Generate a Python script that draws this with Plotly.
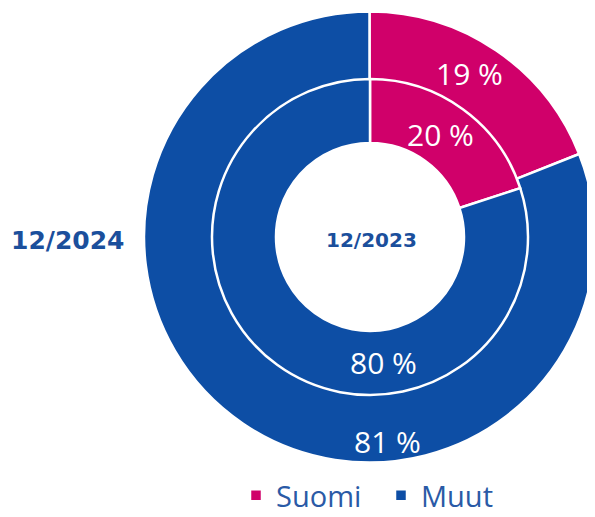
import plotly.graph_objects as go

categories = ["Suomi", "Muut"]
values_2024 = [19, 81]
values_2023 = [20, 80]
colors = ["#D0006A", "#0D4EA5"]
ring_labels = ["12/2024", "12/2023"]

# the page body has an 8px margin, so the figure is drawn 8px in from the window edge
OFF = 8
W, H = 595 - OFF, 517 - OFF

def px(x):  # window x -> paper fraction
    return (x - OFF) / W

def py(y):  # window y (from top) -> paper fraction
    return (H - (y - OFF)) / H

cx, cy = 370, 237  # ring centre in window pixels
r_out, r_mid, r_in = 226, 158, 94

def dom(r):
    return dict(x=[max(0, px(cx - r)), min(1, px(cx + r))],
                y=[max(0, py(cy + r)), min(1, py(cy - r))])

pct_font = dict(family="Open Sans, Noto Sans, sans-serif", size=30, color="white")

fig = go.Figure()
fig.add_trace(go.Pie(
    labels=categories, values=values_2024, sort=False, direction="clockwise", rotation=0,
    hole=(r_mid - 1) / r_out, domain=dom(r_out),
    marker=dict(colors=colors, line=dict(color="white", width=2.5)),
    textinfo="none", hoverinfo="label+value", showlegend=True,
))
fig.add_trace(go.Pie(
    labels=categories, values=values_2023, sort=False, direction="clockwise", rotation=0,
    hole=r_in / r_mid, domain=dom(r_mid),
    marker=dict(colors=colors, line=dict(color="white", width=2.5)),
    textinfo="none", hoverinfo="label+value", showlegend=False,
))

# percentage labels (window pixel positions of each label)
label_pos_2024 = [(470, 73), (388, 441)]
label_pos_2023 = [(440, 135), (383, 362)]
for vals, pos in ((values_2024, label_pos_2024), (values_2023, label_pos_2023)):
    for v, (x, y) in zip(vals, pos):
        fig.add_annotation(x=px(x), y=py(y), xref="paper", yref="paper", xanchor="center",
                           yanchor="middle", text=f"{v} %", showarrow=False, font=pct_font)

lab_font = dict(family="DejaVu Sans, sans-serif", color="#1B4F9C")
fig.add_annotation(x=px(68), y=py(240), xref="paper", yref="paper", xanchor="center",
                   text=f"<b>{ring_labels[0]}</b>", showarrow=False, font=dict(size=25, **lab_font))
fig.add_annotation(x=px(371), y=py(240), xref="paper", yref="paper", xanchor="center",
                   text=f"<b>{ring_labels[1]}</b>", showarrow=False, font=dict(size=20, **lab_font))

fig.update_layout(
    width=W, height=H,
    margin=dict(l=0, r=0, t=0, b=0, autoexpand=False),
    paper_bgcolor="white", plot_bgcolor="white",
    legend=dict(orientation="h", x=px(236), xanchor="left", y=-4 / H, yanchor="bottom",
                font=dict(family="Open Sans, Noto Sans, sans-serif", size=29, color="#2A5AA6"),
                itemwidth=30, traceorder="normal", bgcolor="rgba(0,0,0,0)",
                entrywidth=100, entrywidthmode="pixels"),
)
fig.write_html("out.html")
